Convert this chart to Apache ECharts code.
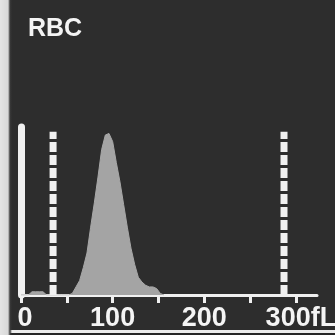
<!DOCTYPE html>
<html>
<head>
<meta charset="utf-8">
<script src="https://cdn.jsdelivr.net/npm/echarts@6/dist/echarts.min.js"></script>
<style>
html,body{margin:0;padding:0;background:#2e2e2e;}
#c{width:335px;height:335px;
background:
 linear-gradient(to right,#e4e4e4 0,#d8d8d8 8px,#3a3a3a 10px,rgba(0,0,0,0) 12px),
 linear-gradient(to bottom,rgba(0,0,0,0) 330px,#ececec 330px,#ececec 333px,#262626 333px),
 #2d2d2d;}
</style>
</head>
<body>
<div id="c"></div>
<script>
// RBC volume histogram (fL vs relative count %)
const volumes = [0,4,8,12,16,20,24,28,32,36,40,44,48,52,56,60,64,68,72,76,80,84,88,92,96,100,104,108,112,116,120,124,128,132,136,140,144,148,152,156];
const counts  = [0,0,0,2,2,2,2,0,0,0,0,0,0,0,1,5,9,17,26,42,57,73,90,99,100,95,82,70,56,42,29,19,11,8,6,5,5,4,1,0];
const discriminators = [35, 287];        // dashed marker positions, fL
const tickLabels = {0:'0',100:'100',200:'200',300:'300fL'};
const title = 'RBC';

const chart = echarts.init(document.getElementById('c'), null, {renderer:'canvas'});
const white = '#f0f0f0';
const series = [{
  type:'line', xAxisIndex:0, yAxisIndex:0,
  data: volumes.map((v,i)=>[v,counts[i]]),
  symbol:'none', smooth:false,
  lineStyle:{width:1,color:'#a8a8a8'},
  areaStyle:{color:'#a4a4a4',opacity:1},
  z:2
}];
discriminators.forEach(d=>{
  series.push({
    type:'line', xAxisIndex:0, yAxisIndex:0,
    data:[[d,0],[d,101]], symbol:'none',
    lineStyle:{width:7,color:white,type:[10,3]}, z:3
  });
});
const labelFont = {fontSize:27,fontWeight:'bold',fontFamily:'Liberation Sans',color:'#f4f4f4'};
chart.setOption({
  animation:false,
  title:{text:title,left:23,top:12,textStyle:{color:'#f4f4f4',fontSize:25,fontWeight:'bold',fontFamily:'Liberation Sans'}},
  grid:[
    {left:21,top:127,width:296,height:168,containLabel:false,outerBoundsMode:'none'},
    {left:21,top:127,width:320.7,height:168,containLabel:false,outerBoundsMode:'none'}
  ],
  xAxis:[
    {gridIndex:0,type:'value',min:0,max:323,splitLine:{show:false},
     axisLine:{show:true,lineStyle:{color:white,width:3}},
     axisTick:{show:false},axisLabel:{show:false}},
    {gridIndex:1,type:'value',min:0,max:350,interval:50,splitLine:{show:false},
     axisLine:{show:false},
     axisTick:{show:true,length:8,lineStyle:{color:white,width:3}},
     axisLabel:Object.assign({show:true,margin:10,
       formatter:v=> tickLabels[v]===undefined ? '' : (v===300 ? '{u|'+tickLabels[v]+'}' : (v===0 ? '{z|'+tickLabels[v]+'}' : tickLabels[v])),
       rich:{u:Object.assign({padding:[0,0,0,10]},labelFont), z:Object.assign({padding:[0,0,0,8]},labelFont)}},labelFont)}
  ],
  yAxis:[
    {gridIndex:0,type:'value',min:0,max:104,splitLine:{show:false},
     axisLine:{show:true,lineStyle:{color:white,width:7}},
     axisTick:{show:false},axisLabel:{show:false}},
    {gridIndex:1,type:'value',min:0,max:104,show:false}
  ],
  series:series
});
</script>
</body>
</html>
